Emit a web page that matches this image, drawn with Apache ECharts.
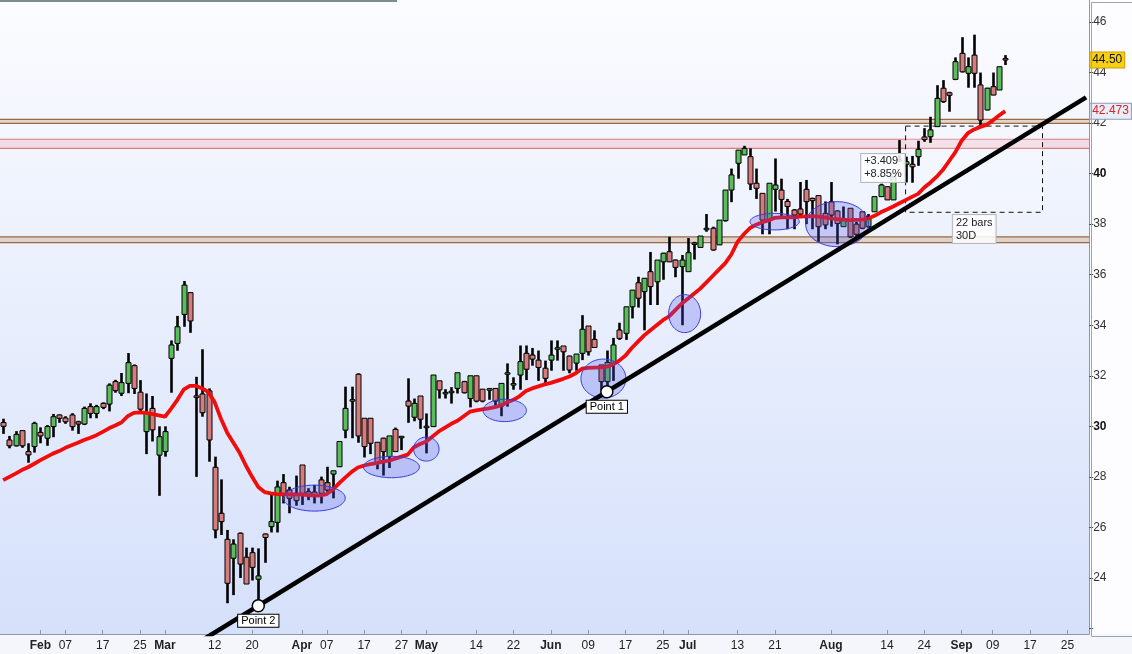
<!DOCTYPE html>
<html><head><meta charset="utf-8">
<script src="https://cdn.jsdelivr.net/npm/echarts@6/dist/echarts.min.js"></script>
<style>html,body{margin:0;padding:0;background:#fff}#c{width:1132px;height:654px}</style>
</head><body><div id="c"></div>
<script>
// ---------- categories (trading days) ----------
const startDate = '2020-01-24';
const skippedDays = ['2020-04-10','2020-04-13','2020-05-08','2020-09-07'];
const categoryCount = 175;
// ---------- x tick labels ----------
const tickDates = ['2020-02-03','2020-02-07','2020-02-17','2020-02-25','2020-03-02','2020-03-12','2020-03-20',
  '2020-04-01','2020-04-07','2020-04-17','2020-04-27','2020-05-01','2020-05-14','2020-05-22','2020-06-01',
  '2020-06-09','2020-06-17','2020-06-25','2020-07-01','2020-07-13','2020-07-21','2020-08-03','2020-08-14',
  '2020-08-24','2020-09-01','2020-09-09','2020-09-17','2020-09-25'];
const tickTexts = ['Feb','07','17','25','Mar','12','20','Apr','07','17','27','May','14','22','Jun',
  '09','17','25','Jul','13','21','Aug','14','24','Sep','09','17','25'];
// ---------- y tick labels shown ----------
const yTickValues = [24,26,28,30,32,34,36,38,40,42,44,46];
const yBoldValues = [30,40];
// ---------- OHLC ----------
const opens = [30.15,29.46,29.23,29.83,29.0,29.2,29.76,29.53,29.99,30.45,
 30.33,30.45,30.18,30.09,30.78,30.51,30.91,30.88,31.77,31.31,
 31.7,32.4,31.35,29.79,30.71,28.86,29.0,32.69,33.28,34.43,
 35.29,31.2,31.28,31.4,28.38,26.56,25.53,24.78,25.77,24.82,
 25.0,23.95,25.74,26.03,26.2,27.77,27.48,27.35,28.47,27.41,
 27.4,27.88,27.77,28.11,28.4,29.85,31.0,32.06,30.32,30.32,
 29.37,29.53,28.8,29.88,29.55,31.0,30.36,31.2,29.95,29.99,
 31.8,31.3,31.35,31.5,31.77,31.1,32.0,31.47,31.45,31.5,
 30.8,32.08,31.65,32.03,32.89,32.82,32.62,32.3,32.62,33.07,
 33.18,32.78,32.5,32.89,33.97,33.44,32.43,31.77,32.49,33.81,
 33.68,34.73,35.68,35.33,36.12,35.72,36.51,36.91,36.58,36.32,
 36.12,37.2,37.08,37.8,37.84,37.18,38.14,39.35,40.41,40.74,
 40.67,39.62,39.22,38.16,39.38,39.35,38.9,38.56,38.6,39.38,
 39.02,39.13,38.43,38.89,38.52,37.9,38.63,38.0,38.49,37.9,
 38.49,39.09,39.48,38.96,40.5,40.37,40.37,40.67,41.45,41.46,
 41.86,43.38,43.2,43.73,44.76,43.97,44.69,43.51,42.52,43.44,
 43.31,44.55];
const closes = [30.0,29.23,29.68,29.23,28.87,30.12,29.62,29.99,30.38,30.32,
 30.18,29.99,30.09,30.71,30.51,30.78,30.75,31.63,31.41,31.73,
 32.52,31.5,30.68,30.51,29.86,29.59,29.79,33.22,33.94,35.59,
 34.17,31.15,30.54,29.46,25.9,26.23,23.79,25.34,24.55,23.76,
 24.42,24.08,25.6,26.23,27.6,27.28,27.15,27.06,27.35,27.3,
 27.3,27.35,27.48,28.24,29.4,30.71,31.05,29.62,29.2,29.33,
 28.54,29.0,29.62,29.0,29.6,30.8,30.91,30.28,30.0,32.03,
 31.44,31.33,31.37,32.12,31.33,32.0,31.0,31.0,31.47,31.0,
 31.7,32.1,31.67,32.56,32.26,32.66,32.33,31.9,32.82,33.09,
 32.95,32.23,32.86,33.84,32.95,33.12,31.77,32.53,33.22,33.48,
 34.73,35.39,35.07,35.86,35.53,36.58,36.85,36.51,36.29,36.58,
 36.87,37.25,37.53,37.82,36.98,38.16,39.35,39.95,40.93,41.0,
 39.59,39.42,38.16,39.62,39.55,38.98,38.7,38.36,38.4,38.89,
 38.93,37.9,37.97,38.36,38.03,38.19,37.5,37.6,37.84,38.3,
 39.09,39.55,38.96,39.88,40.55,40.47,40.27,40.96,41.35,41.73,
 42.98,42.85,43.1,44.43,44.03,44.23,43.97,42.12,43.38,43.11,
 44.23,44.50];
const lows = [29.7,29.13,29.2,29.15,28.56,28.96,29.33,29.23,29.57,30.14,
 30.1,29.83,29.7,30.05,30.32,30.32,30.68,30.59,31.33,31.2,
 31.31,31.28,30.5,28.9,29.4,27.25,28.8,31.33,32.99,33.94,
 33.7,28.0,30.38,28.6,25.57,25.7,23.0,23.32,24.0,23.76,
 23.9,22.9,24.6,25.8,25.8,26.95,26.56,26.86,26.89,27.08,
 26.95,26.95,27.35,27.15,28.4,29.53,29.53,29.35,28.77,28.9,
 28.3,28.05,28.35,29.0,29.06,30.14,30.2,29.9,28.93,29.99,
 31.1,31.1,30.9,31.3,31.3,30.75,30.95,30.95,31.05,30.8,
 30.4,30.78,31.45,31.45,31.83,32.4,31.8,31.6,32.2,32.6,
 32.2,32.1,32.2,32.62,32.8,33.1,31.44,31.37,31.8,33.42,
 33.42,34.27,34.7,33.8,34.8,34.8,35.8,36.5,35.9,34.0,
 36.12,36.6,37.08,37.7,36.95,37.18,38.1,38.87,39.8,40.74,
 39.35,39.0,37.6,37.6,38.5,38.3,37.8,37.8,38.36,38.0,
 37.8,37.3,37.8,37.9,37.2,37.9,37.45,37.45,37.8,37.85,
 38.49,39.09,38.96,38.96,40.47,39.65,39.64,40.31,41.26,41.22,
 41.86,42.8,42.45,43.7,44.0,43.4,43.4,41.9,42.5,43.1,
 43.31,44.3];
const highs = [30.3,29.62,29.81,29.85,29.33,30.18,29.96,30.05,30.49,30.47,
 30.4,30.52,30.22,30.78,30.91,30.85,30.95,31.7,31.84,32.11,
 32.9,32.45,31.83,31.3,31.2,30.0,30.0,33.4,34.37,35.75,
 35.3,31.96,33.05,31.5,28.8,27.9,25.9,25.53,25.8,25.2,
 25.2,25.17,25.76,27.35,27.85,28.11,27.61,28.05,28.47,27.55,
 27.68,28.01,28.4,28.24,29.4,31.57,31.57,32.1,30.32,30.32,
 29.37,29.55,29.62,29.95,29.62,31.9,31.1,31.2,30.51,32.03,
 31.8,31.47,31.55,32.12,31.8,32.0,32.0,31.47,31.52,31.5,
 31.7,32.49,31.94,33.2,33.2,33.1,33.0,32.6,33.4,33.4,
 33.18,32.8,32.86,34.4,33.97,33.8,32.43,33.0,33.5,34.1,
 34.73,35.39,35.92,35.86,36.9,36.58,36.87,37.5,36.6,36.78,
 37.45,37.3,37.53,38.4,37.9,38.16,39.35,40.2,40.93,41.1,
 41.0,40.2,39.22,39.62,40.6,39.8,39.0,38.6,39.67,39.75,
 39.05,39.13,38.9,39.67,38.55,38.7,38.63,38.1,38.49,38.4,
 39.09,39.6,39.5,39.88,41.33,40.67,40.7,41.3,41.8,42.25,
 43.5,43.7,43.24,44.6,45.4,44.6,45.5,44.0,43.4,44.0,
 44.23,44.69];
// ---------- moving average ----------
const maValues = [27.87,28.0,28.13,28.27,28.38,28.52,28.66,28.79,28.92,29.02,
 29.15,29.25,29.35,29.46,29.55,29.65,29.78,29.92,30.03,30.15,
 30.4,30.53,30.55,30.53,30.48,30.43,30.38,30.7,31.05,31.45,
 31.6,31.6,31.5,31.35,30.95,30.3,29.75,29.35,28.95,28.45,
 28.0,27.6,27.4,27.35,27.32,27.31,27.31,27.31,27.3,27.28,
 27.26,27.27,27.32,27.5,27.75,27.98,28.2,28.37,28.45,28.5,
 28.54,28.6,28.64,28.72,28.8,28.88,29.17,29.3,29.4,29.6,
 29.8,29.95,30.1,30.22,30.4,30.58,30.63,30.67,30.71,30.76,
 30.83,30.95,31.05,31.2,31.4,31.5,31.58,31.66,31.72,31.8,
 31.88,31.97,32.1,32.28,32.31,32.32,32.33,32.36,32.45,32.6,
 32.8,33.1,33.35,33.6,33.8,34.0,34.2,34.35,34.6,34.85,
 35.05,35.25,35.45,35.7,35.95,36.2,36.45,36.8,37.3,37.6,
 37.85,37.98,38.08,38.15,38.25,38.27,38.27,38.27,38.3,38.31,
 38.32,38.3,38.27,38.23,38.2,38.18,38.16,38.17,38.18,38.22,
 38.33,38.47,38.58,38.7,38.83,38.95,39.08,39.2,39.45,39.65,
 39.88,40.15,40.5,40.85,41.3,41.6,41.75,41.85,41.93,42.1,
 42.3,42.473];
// ---------- horizontal zones [upper, lower, kind] ----------
const zoneUpper = [42.15, 41.36, 37.50];
const zoneLower = [41.99, 41.00, 37.27];
const zoneKind  = ['brown','pink','brown'];
// ---------- trend line anchor points ----------
const pointBars = [41, 97];
const pointPrices = [22.9, 31.37];
const pointLabels = ['Point 2', 'Point 1'];
// ---------- highlighted ellipses ----------
const ellipseBar   = [50.0, 62.4, 68.0, 80.6, 96.45, 109.5, 123.96, 134.0];
const ellipsePrice = [27.16, 28.39, 29.10, 30.63, 31.89, 34.46, 38.10, 38.0];
const ellipseRx    = [4.97, 4.49, 2.04, 3.48, 3.61, 2.57, 3.96, 5.05];
const ellipseRy    = [0.514, 0.423, 0.475, 0.443, 0.772, 0.752, 0.328, 0.89];
// ---------- measurement box ----------
const measureBars = [145, 167];
const measurePrices = [41.88, 38.47];
const measureTexts = ['+3.409\n+8.85%', '22 bars\n30D'];
const measureTextBars = [137.86, 152.6];
const measureTextPrices = [40.78, 38.36];

const FONT = '"Liberation Sans", Arial, sans-serif';
function buildDates(){
  const out=[]; const d=new Date(startDate+'T00:00:00Z');
  while(out.length<categoryCount){
    const wd=d.getUTCDay(); const s=d.toISOString().slice(0,10);
    if(wd!==0&&wd!==6&&skippedDays.indexOf(s)<0) out.push(s);
    d.setUTCDate(d.getUTCDate()+1);
  }
  return out;
}
const dates = buildDates();
const tickMap = {}; tickDates.forEach((d,k)=>tickMap[d]=tickTexts[k]);
const monthSet = {Feb:1,Mar:1,Apr:1,May:1,Jun:1,Jul:1,Aug:1,Sep:1};

const candleData = opens.map((o,i)=>[i,o,closes[i],lows[i],highs[i]]);
const slope = (pointPrices[1]-pointPrices[0])/(pointBars[1]-pointBars[0]);
const tStart = 30, tEnd = categoryCount-1;
const trendData = [[tStart, pointPrices[0]+slope*(tStart-pointBars[0])],[tEnd, pointPrices[0]+slope*(tEnd-pointBars[0])]];

const Y_MIN = 21.782, Y_MAX = 46.871;
const chart = echarts.init(document.getElementById('c'), null, {renderer:'canvas'});
const option = {
  backgroundColor:'#f4f6fb',
  animation:false,
  grid:{left:-2.1, right:42.8, top:0, bottom:20, show:true, borderWidth:0,
    backgroundColor:new echarts.graphic.LinearGradient(0,0,0,1,[{offset:0,color:'#fbfcff'},{offset:1,color:'#d5e0fa'}])},
  xAxis:{type:'category', data:dates, boundaryGap:true,
    axisLine:{show:true, lineStyle:{color:'#8d9aa6', width:1}},
    axisTick:{show:true, alignWithLabel:true, inside:true, length:4, interval:(idx,val)=>tickMap[val]!==undefined, lineStyle:{color:'#8d9aa6'}},
    axisLabel:{interval:(idx,val)=>tickMap[val]!==undefined, margin:6, fontFamily:FONT, fontSize:12, color:'#222',
      formatter:(val)=>{const t=tickMap[val]; if(t===undefined) return ''; return monthSet[t]?'{m|'+t+'}':t;},
      rich:{m:{fontWeight:'bold', fontFamily:FONT, fontSize:12, color:'#222'}}},
    splitLine:{show:false}},
  yAxis:{type:'value', position:'right', min:Y_MIN, max:Y_MAX, splitNumber:12, scale:true,
    splitLine:{show:false},
    axisLine:{show:true, lineStyle:{color:'#8d9aa6'}},
    axisTick:{show:true, length:4, lineStyle:{color:'#444'}},
    axisLabel:{showMinLabel:false, showMaxLabel:false, margin:4, fontFamily:FONT, fontSize:12, color:'#333',
      formatter:(v)=>{const r=Math.round(v); if(Math.abs(r-v)>0.01||yTickValues.indexOf(r)<0) return '';
        return yBoldValues.indexOf(r)>=0?'{b|'+r+'}':String(r);},
      rich:{b:{fontWeight:'bold', fontFamily:FONT, fontSize:12, color:'#111'}}}},
  series:[
    { // zones
      type:'custom', name:'zones', z:1, clip:true,
      data: zoneUpper.map((u,k)=>[0,u,zoneLower[k],k]),
      renderItem:(params,api)=>{
        const cs=params.coordSys; const k=api.value(3);
        const yt=api.coord([0,api.value(1)])[1], yb=api.coord([0,api.value(2)])[1];
        const brown = zoneKind[k]==='brown';
        const line = brown?'#9a6a45':'#d77a7a';
        const fill = brown?'rgba(205,170,140,0.45)':'rgba(240,170,185,0.35)';
        return {type:'group',children:[
          {type:'rect',shape:{x:cs.x,y:yt,width:cs.width,height:yb-yt},style:{fill:fill}},
          {type:'line',shape:{x1:cs.x,y1:yt,x2:cs.x+cs.width,y2:yt},style:{stroke:line,lineWidth:1.2}},
          {type:'line',shape:{x1:cs.x,y1:yb,x2:cs.x+cs.width,y2:yb},style:{stroke:line,lineWidth:1.2}}
        ]};
      }
    },
    { // measurement box
      type:'custom', name:'measure', z:2, clip:true,
      data:[[measureBars[0],measurePrices[0],measureBars[1],measurePrices[1]]],
      renderItem:(params,api)=>{
        const p1=api.coord([api.value(0),api.value(1)]), p2=api.coord([api.value(2),api.value(3)]);
        return {type:'rect',shape:{x:p1[0],y:p1[1],width:p2[0]-p1[0],height:p2[1]-p1[1]},
          style:{fill:'rgba(255,255,255,0.18)',stroke:'#111',lineWidth:1,lineDash:[5,4]}};
      }
    },
    { // candles
      type:'custom', name:'candles', z:3, clip:true,
      data:candleData, encode:{x:0,y:[1,2,3,4]},
      renderItem:(params,api)=>{
        const i=api.value(0),o=api.value(1),c=api.value(2),l=api.value(3),h=api.value(4);
        const pO=api.coord([i,o]), pC=api.coord([i,c]), pL=api.coord([i,l]), pH=api.coord([i,h]);
        const x=Math.round(pO[0])+0.5; const bw=5;
        let top=Math.min(pO[1],pC[1]); let hh=Math.abs(pO[1]-pC[1]); if(hh<1.5){top-= (1.5-hh)/2; hh=1.5;}
        return {type:'group',children:[
          {type:'line',shape:{x1:x,y1:pH[1],x2:x,y2:pL[1]},style:{stroke:'#000',lineWidth:2.6}},
          {type:'rect',shape:{x:x-bw/2,y:top,width:bw,height:hh},style:{fill:c>=o?'#58bd5a':'#d57c7c',stroke:'#000',lineWidth:1}}
        ]};
      }
    },
    { // moving average
      type:'line', name:'MA', z:4, data:maValues, symbol:'none', smooth:false,
      lineStyle:{color:'#f20d0d', width:3.8}
    },
    { // ellipses
      type:'custom', name:'ellipses', z:5, clip:true,
      data: ellipseBar.map((b,k)=>[b,ellipsePrice[k],ellipseRx[k],ellipseRy[k]]),
      renderItem:(params,api)=>{
        const b=api.value(0), p=api.value(1);
        const a0=api.coord([Math.floor(b),p]), a1=api.coord([Math.floor(b)+1,p]);
        const band=a1[0]-a0[0];
        const cx=a0[0]+(b-Math.floor(b))*band;
        const cy=a0[1];
        const rx=api.value(2)*band;
        const ry=Math.abs(api.coord([0,p+api.value(3)])[1]-cy);
        const pts=[]; for(let t=0;t<72;t++){const a=t/72*Math.PI*2; pts.push([cx+rx*Math.cos(a), cy+ry*Math.sin(a)]);}
        return {type:'polygon',shape:{points:pts},style:{fill:'rgba(80,90,235,0.27)',stroke:'#3a3ad8',lineWidth:1}};
      }
    },
    { // trend line
      type:'line', name:'trend', z:6, data:trendData, symbol:'none', clip:true,
      lineStyle:{color:'#000', width:4.6}
    },
    { // anchor points
      type:'custom', name:'points', z:7, clip:false,
      data: pointBars.map((b,k)=>[b,pointPrices[k],k]),
      renderItem:(params,api)=>{
        const c=api.coord([api.value(0),api.value(1)]); const k=api.value(2);
        return {type:'group',children:[
          {type:'circle',shape:{cx:c[0],cy:c[1],r:6},style:{fill:'#fff',stroke:'#000',lineWidth:1.5}},
          {type:'text',x:c[0],y:c[1]+9,style:{text:pointLabels[k],align:'center',verticalAlign:'top',
            font:'11px '+FONT,fill:'#000',backgroundColor:'#fff',borderColor:'#000',borderWidth:1,padding:[1,3,0,3]}}
        ]};
      }
    },
    { // measurement texts
      type:'custom', name:'mtexts', z:8, clip:false,
      data: measureTextBars.map((b,k)=>[b,measureTextPrices[k],k]),
      renderItem:(params,api)=>{
        const b=api.value(0);
        const a0=api.coord([Math.floor(b),api.value(1)]), a1=api.coord([Math.floor(b)+1,api.value(1)]);
        const x=a0[0]+(b-Math.floor(b))*(a1[0]-a0[0]); const k=api.value(2);
        return {type:'text',x:x,y:a0[1],style:{text:measureTexts[k],align:'left',verticalAlign:'top',lineHeight:13,
          font:'11px '+FONT,fill:'#222',backgroundColor:'rgba(255,255,255,0.85)',borderColor:'#b8b8c0',borderWidth:1,padding:[1,3,1,3]}};
      }
    },
    { // right-axis price tags
      type:'custom', name:'tags', z:9, clip:false,
      data:[[0,closes[closes.length-1],0],[0,maValues[maValues.length-1],1]],
      renderItem:(params,api)=>{
        const cs=params.coordSys; const v=api.value(1); const k=api.value(2);
        const y=api.coord([0,v])[1]; const x=cs.x+cs.width+1;
        const isClose=k===0;
        return {type:'text',x:x,y:y,style:{text:isClose?v.toFixed(2):v.toFixed(3),align:'left',verticalAlign:'middle',
          font:'12px '+FONT,fill:isClose?'#111':'#e0202a',backgroundColor:isClose?'#f8cf18':'#e9edf6',
          borderColor:isClose?'#c8a000':'#8a9ab8',borderWidth:1,padding:[2,2,1,2]}};
      }
    }
  ],
  graphic:[
    {type:'rect',left:1089.5,top:0,shape:{width:43,height:634},style:{fill:'#fdfdff'},z:-10, silent:true},
    {type:'rect',left:1089,top:0,shape:{x:0,y:0,width:41.5,height:634},style:{fill:'none',stroke:'#9aa6b2',lineWidth:1},z:50, silent:true},
    {type:'rect',left:0,top:0,shape:{width:397,height:2},style:{fill:'#7f8b8b'},z:100}
  ]
};
chart.setOption(option);
</script></body></html>
